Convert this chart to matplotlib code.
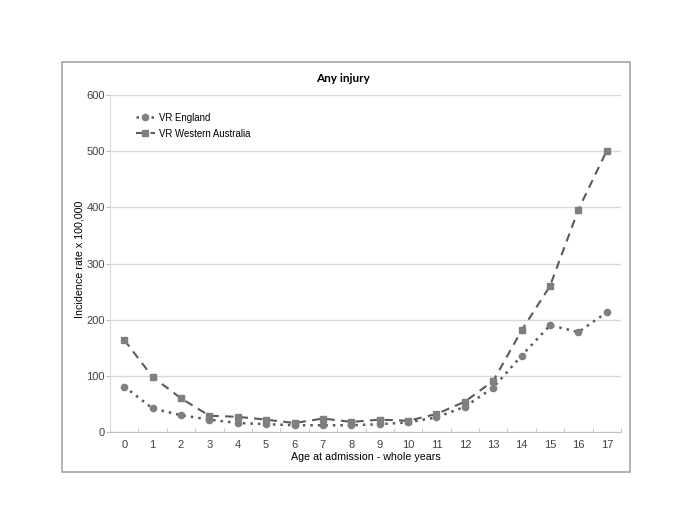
import matplotlib
matplotlib.use("Agg")
import matplotlib.pyplot as plt
from matplotlib.patches import Rectangle

ages = list(range(18))
age_labels = [str(a) for a in ages]
england = [81, 42, 30, 22, 16, 14, 12, 12, 12, 14, 17, 26, 45, 79, 136, 190, 178, 213]
western_australia = [164, 98, 60, 29, 27, 22, 16, 24, 18, 22, 20, 32, 54, 91, 181, 260, 396, 501]
y_ticks = [0, 100, 200, 300, 400, 500, 600]

W, H = 685, 529
fig = plt.figure(figsize=(W / 100, H / 100), dpi=100)
fig.patch.set_facecolor("white")

# outer chart border
fig.patches.append(Rectangle((62 / W, 1 - 472 / H), (630 - 62) / W, (472 - 62) / H,
                             transform=fig.transFigure, fill=False,
                             edgecolor="#a6a6a6", linewidth=1.2))

left, right, top, bottom = 110, 621, 95, 432
ax = fig.add_axes([left / W, 1 - bottom / H, (right - left) / W, (bottom - top) / H])

font = "Liberation Sans"
ax.plot(ages, england, linestyle=(0, (1, 2)), color="#5a5a5a", linewidth=1.8,
        marker="o", markersize=4.5, markerfacecolor="#7f7f7f", markeredgecolor="#7f7f7f",
        label="VR England")
ax.plot(ages, western_australia, linestyle=(0, (4, 3)), color="#5a5a5a", linewidth=1.5,
        marker="s", markersize=4.5, markerfacecolor="#7f7f7f", markeredgecolor="#7f7f7f",
        label="VR Western Australia")

ax.set_xlim(-0.5, 17.5)
ax.set_ylim(0, 600)
ax.set_yticks(y_ticks)
ax.set_yticklabels([str(v) for v in y_ticks], fontsize=8, family=font, color="#404040")
ax.set_xticks(ages)
ax.set_xticklabels(age_labels, fontsize=8, family=font, color="#404040")
ax.tick_params(axis="x", length=0, pad=6)
ax.tick_params(axis="y", length=3, color="#bfbfbf", pad=0.8)
# minor ticks between categories
ax.set_xticks([a + 0.5 for a in range(-1, 18)], minor=True)
ax.tick_params(axis="x", which="minor", length=3, color="#bfbfbf", direction="in")
ax.grid(axis="y", color="#d9d9d9", linewidth=1)
ax.set_axisbelow(True)
for s in ["top", "right"]:
    ax.spines[s].set_visible(False)
ax.spines["left"].set_color("#d9d9d9")
ax.spines["bottom"].set_color("#bfbfbf")

ax.set_ylabel("Incidence rate x 100,000", fontsize=7.7, family=font)
ax.set_xlabel("Age at admission - whole years", fontsize=7.7, family=font)
ax.yaxis.set_label_coords((85 - left) / (right - left), (432 - 259.5) / 337)
ax.xaxis.set_label_coords(0.5, -(452 - 432) / 337)

title = fig.text(343 / W, 1 - 78 / H, "Any injury", ha="center", va="center",
                 fontsize=10, fontweight="bold", family="Lato")
fig.canvas.draw()
bb = title.get_window_extent()
title.set_fontsize(10 * 54 / bb.width)

leg = ax.legend(loc="upper left", bbox_to_anchor=(0.035, 0.97), frameon=False,
                prop={"family": font, "size": 6.9}, handlelength=2.0,
                handletextpad=0.4, labelspacing=0.6, borderpad=0.3)

fig.savefig("out.png", dpi=100)
